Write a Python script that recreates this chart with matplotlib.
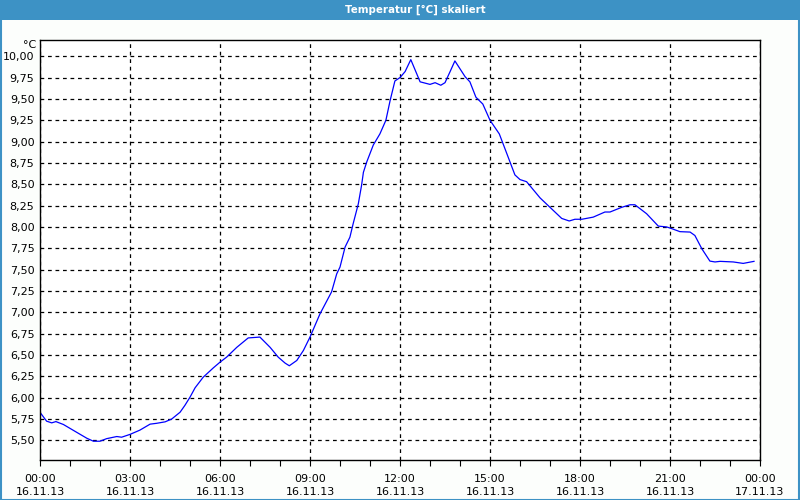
import matplotlib
matplotlib.use("Agg")
import matplotlib.pyplot as plt
from matplotlib.patches import Rectangle
from matplotlib.ticker import MultipleLocator

# Data (hours since 16.11.13 00:00, temperature in °C)
hours = [0.04, 0.22, 0.39, 0.53, 0.78, 1.22, 1.56, 1.78, 2.0, 2.22, 2.56, 2.72, 3.0, 3.33,
         3.67, 3.89, 4.17, 4.39, 4.67, 4.83, 5.0, 5.17, 5.44, 5.78, 6.0, 6.22, 6.56, 6.94,
         7.33, 7.67, 7.94, 8.17, 8.31, 8.56, 8.78, 9.0, 9.33, 9.72, 9.89, 10.0, 10.17, 10.33,
         10.44, 10.61, 10.72, 10.78, 10.89, 11.11, 11.33, 11.53, 11.67, 11.83, 12.0, 12.17,
         12.36, 12.67, 13.0, 13.17, 13.36, 13.5, 13.67, 13.83, 14.17, 14.33, 14.53, 14.76,
         15.0, 15.31, 15.56, 15.83, 16.0, 16.22, 16.67, 17.06, 17.39, 17.64, 17.83, 18.06,
         18.44, 18.83, 19.0, 19.39, 19.67, 19.83, 20.22, 20.61, 20.89, 21.06, 21.33, 21.67,
         21.83, 22.06, 22.33, 22.5, 22.67, 23.11, 23.44, 23.8]
temps = [5.81, 5.725, 5.705, 5.72, 5.686, 5.595, 5.525, 5.49, 5.49, 5.52, 5.545, 5.537, 5.57, 5.62,
         5.69, 5.70, 5.717, 5.75, 5.83, 5.91, 6.006, 6.116, 6.24, 6.35, 6.416, 6.475, 6.59, 6.70,
         6.71, 6.59, 6.475, 6.405, 6.374, 6.436, 6.553, 6.71, 6.98, 7.24, 7.45, 7.53, 7.765, 7.88,
         8.04, 8.27, 8.49, 8.64, 8.76, 8.96, 9.09, 9.25, 9.48, 9.71, 9.75, 9.82,
         9.96, 9.70, 9.67, 9.69, 9.66, 9.69, 9.82, 9.945, 9.76, 9.70, 9.52, 9.44,
         9.25, 9.09, 8.86, 8.61, 8.555, 8.53, 8.34, 8.21, 8.10, 8.07, 8.09, 8.09,
         8.115, 8.175, 8.175, 8.23, 8.26, 8.26, 8.155, 8.01, 8.0, 7.98, 7.945, 7.94,
         7.90, 7.745, 7.60, 7.59, 7.597, 7.59, 7.573, 7.597]

tick_hours = [0, 3, 6, 9, 12, 15, 18, 21, 24]
tick_times = ["00:00", "03:00", "06:00", "09:00", "12:00", "15:00", "18:00", "21:00", "00:00"]
tick_dates = ["16.11.13"] * 8 + ["17.11.13"]
y_ticks = [5.50, 5.75, 6.00, 6.25, 6.50, 6.75, 7.00, 7.25, 7.50, 7.75, 8.00, 8.25,
           8.50, 8.75, 9.00, 9.25, 9.50, 9.75, 10.00]

title = "Temperatur [°C] skaliert"
unit = "°C"

plt.rcParams['font.family'] = ['DejaVu Sans']
W, H = 800, 500
fig = plt.figure(figsize=(8, 5), dpi=100, facecolor="#fcfefc")

# Title bar
blue = "#3d92c5"
fig.patches.append(Rectangle((0, 1 - 20 / H), 1, 20 / H, transform=fig.transFigure,
                             facecolor=blue, edgecolor="none", zorder=0))
fig.text(415 / W, 1 - 10 / H, title, ha="center", va="center", color="white",
         fontsize=7.4, fontweight="bold")
# Border
fig.patches.append(Rectangle((0.5 / W, 0.5 / H), 1 - 1.5 / W, 1 - 1 / H, transform=fig.transFigure,
                             facecolor="none", edgecolor=blue, linewidth=1.5, zorder=0))

ax = fig.add_axes([40 / W, 40 / H, 720 / W, 420 / H])
ax.set_facecolor("white")
ax.plot(hours, temps, color="#0000ff", linewidth=0.9)

ax.set_xlim(0, 24)
ax.set_ylim(5.27, 10.19)

ax.set_xticks(tick_hours)
ax.set_xticklabels([f"{t}\n{d}" for t, d in zip(tick_times, tick_dates)], linespacing=1.45)
ax.xaxis.set_minor_locator(MultipleLocator(1))
ax.set_yticks(y_ticks)
ax.set_yticklabels([f"{v:.2f}".replace(".", ",") for v in y_ticks])

ax.tick_params(axis="x", which="both", direction="out", length=4, width=0.8, pad=6,
               labelsize=8, colors="black")
ax.tick_params(axis="y", which="both", length=0, pad=4, labelsize=8)

ax.grid(True, which="major", color="black", linestyle=(0, (3, 3)), linewidth=0.9)
for s in ax.spines.values():
    s.set_color("black")
    s.set_linewidth(1.0)

ax.text(-4 / 720, 1 - 5 / 420, unit, transform=ax.transAxes, ha="right", va="center",
        fontsize=8)

fig.savefig("out.png", dpi=100, facecolor=fig.get_facecolor())
